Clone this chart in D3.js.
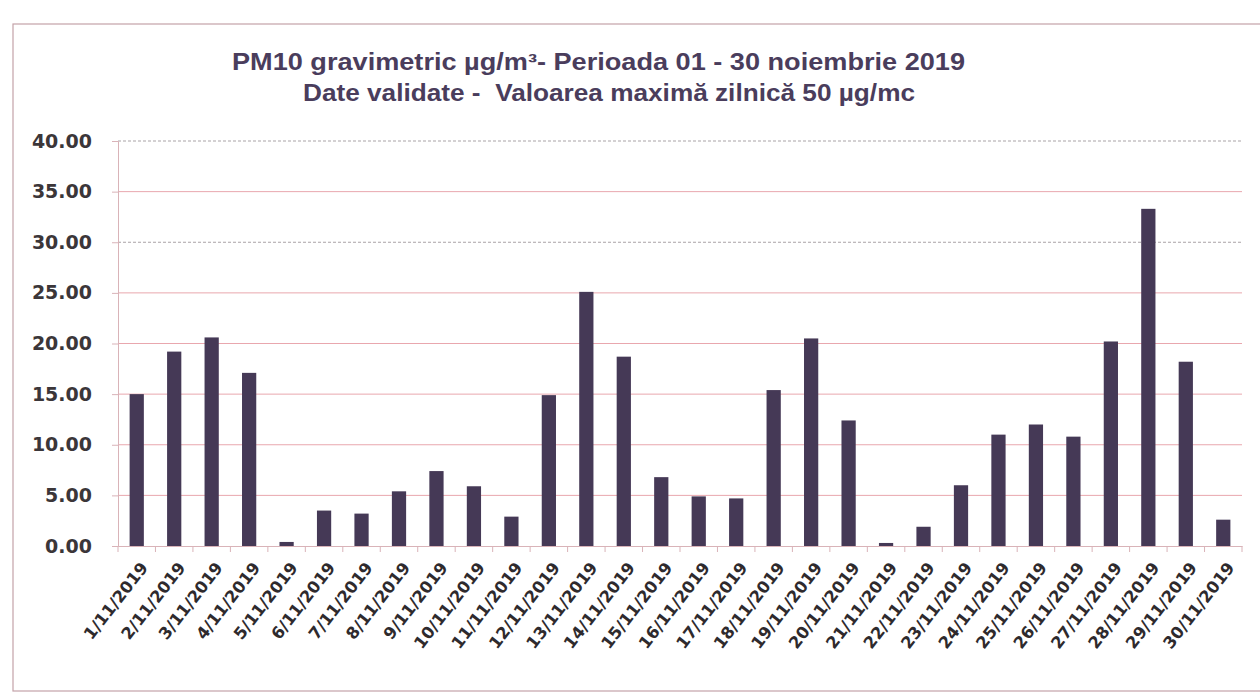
<!DOCTYPE html>
<html>
<head>
<meta charset="utf-8">
<script src="https://cdn.jsdelivr.net/npm/d3@7"></script>
<style>
  body { margin: 0; background: #fff; }
  .grid line { stroke: #e9a7ae; stroke-width: 1; }
  .grid line.dash { stroke: #a9a3a6; stroke-dasharray: 3,2; }
  .axis path, .axis line { stroke: #d9b3b8; }
  .bar { fill: #453956; }
</style>
</head>
<body>
<script>
"use strict";

var width = 1260;
var height = 696;

// zile (1 - 30 noiembrie 2019)
var days = ["1/11/2019", "2/11/2019", "3/11/2019", "4/11/2019", "5/11/2019",
  "6/11/2019", "7/11/2019", "8/11/2019", "9/11/2019", "10/11/2019",
  "11/11/2019", "12/11/2019", "13/11/2019", "14/11/2019", "15/11/2019",
  "16/11/2019", "17/11/2019", "18/11/2019", "19/11/2019", "20/11/2019",
  "21/11/2019", "22/11/2019", "23/11/2019", "24/11/2019", "25/11/2019",
  "26/11/2019", "27/11/2019", "28/11/2019", "29/11/2019", "30/11/2019"];

// PM10 gravimetric, µg/m3
var pm10 = [15.0, 19.2, 20.6, 17.1, 0.4, 3.5, 3.2, 5.4, 7.4, 5.9,
  2.9, 14.9, 25.1, 18.7, 6.8, 4.9, 4.7, 15.4, 20.5, 12.4,
  0.3, 1.9, 6.0, 11.0, 12.0, 10.8, 20.2, 33.3, 18.2, 2.6];

var yTicks = [0, 5, 10, 15, 20, 25, 30, 35, 40];

var title1 = "PM10 gravimetric µg/m³- Perioada 01 - 30 noiembrie 2019";
var title2 = "Date validate -  Valoarea maximă zilnică 50 µg/mc";

var margin = {left: 118, right: 18, top: 141, bottom: 150};

var svg = d3.select("body")
  .append("svg")
  .attr("width", width)
  .attr("height", height);

// chenarul graficului
svg.append("rect")
  .attr("x", 13)
  .attr("y", 24)
  .attr("width", 1262)
  .attr("height", 667)
  .attr("fill", "#fff")
  .attr("stroke", "#c4a2a8")
  .attr("stroke-width", 1.2);

var x = d3.scaleBand()
  .domain(days)
  .range([margin.left, width - margin.right])
  .paddingInner(0.62)
  .paddingOuter(0.31);

var y = d3.scaleLinear()
  .domain([0, 40])
  .range([height - margin.bottom, margin.top]);

// liniile de grila
svg.append("g")
  .attr("class", "grid")
  .selectAll("line")
  .data(yTicks.slice(1))
  .enter()
  .append("line")
  .attr("class", function(d) { return (d === 30 || d === 40) ? "dash" : null; })
  .attr("x1", margin.left)
  .attr("x2", width - margin.right)
  .attr("y1", function(d) { return y(d); })
  .attr("y2", function(d) { return y(d); });

// axa Y
var yAxis = svg.append("g")
  .attr("class", "axis")
  .attr("transform", "translate(" + margin.left + ",0)")
  .call(d3.axisLeft(y).tickValues(yTicks).tickFormat(d3.format(".2f")).tickSize(6).tickPadding(20));

yAxis.selectAll("text")
  .style("font-family", "DejaVu Sans")
  .style("font-weight", "bold")
  .style("font-size", "19px")
  .attr("fill", "#3b3639");

// coloanele
svg.selectAll(".bar")
  .data(pm10)
  .enter()
  .append("rect")
  .attr("class", "bar")
  .attr("x", function(d, i) { return x(days[i]); })
  .attr("y", function(d) { return y(d); })
  .attr("width", x.bandwidth())
  .attr("height", function(d) { return y(0) - y(d); });

// axa X
var xAxis = svg.append("g")
  .attr("class", "axis")
  .attr("transform", "translate(0," + y(0) + ")")
  .call(d3.axisBottom(x).tickSize(0).tickFormat(""));

// semne intre categorii
var sepX = function(i) {
  return margin.left + x.step() * x.paddingOuter() - x.step() * x.paddingInner() / 2 + i * x.step();
};
xAxis.selectAll(".sep")
  .data(d3.range(days.length + 1))
  .enter()
  .append("line")
  .attr("class", "sep")
  .attr("x1", sepX)
  .attr("x2", sepX)
  .attr("y1", 0)
  .attr("y2", 6);

svg.append("g")
  .selectAll("text")
  .data(days)
  .enter()
  .append("text")
  .attr("transform", function(d) {
    return "translate(" + (x(d) + x.bandwidth() / 2 + 12) + "," + (y(0) + 22) + ") rotate(-52)";
  })
  .attr("text-anchor", "end")
  .style("font-family", "DejaVu Sans")
  .style("font-weight", "bold")
  .style("font-size", "16.5px")
  .attr("fill", "#2e2a2d")
  .text(function(d) { return d; });

// titlul
svg.append("text")
  .attr("x", 232)
  .attr("y", 70)
  .attr("textLength", 733)
  .attr("lengthAdjust", "spacingAndGlyphs")
  .style("font-family", "Liberation Sans")
  .style("font-weight", "bold")
  .style("font-size", "23px")
  .attr("fill", "#4a3d5c")
  .text(title1);

svg.append("text")
  .attr("x", 303)
  .attr("y", 101)
  .attr("textLength", 612)
  .attr("lengthAdjust", "spacingAndGlyphs")
  .style("font-family", "Liberation Sans")
  .style("font-weight", "bold")
  .style("font-size", "23px")
  .style("white-space", "pre")
  .attr("fill", "#4a3d5c")
  .text(title2);
</script>
</body>
</html>
